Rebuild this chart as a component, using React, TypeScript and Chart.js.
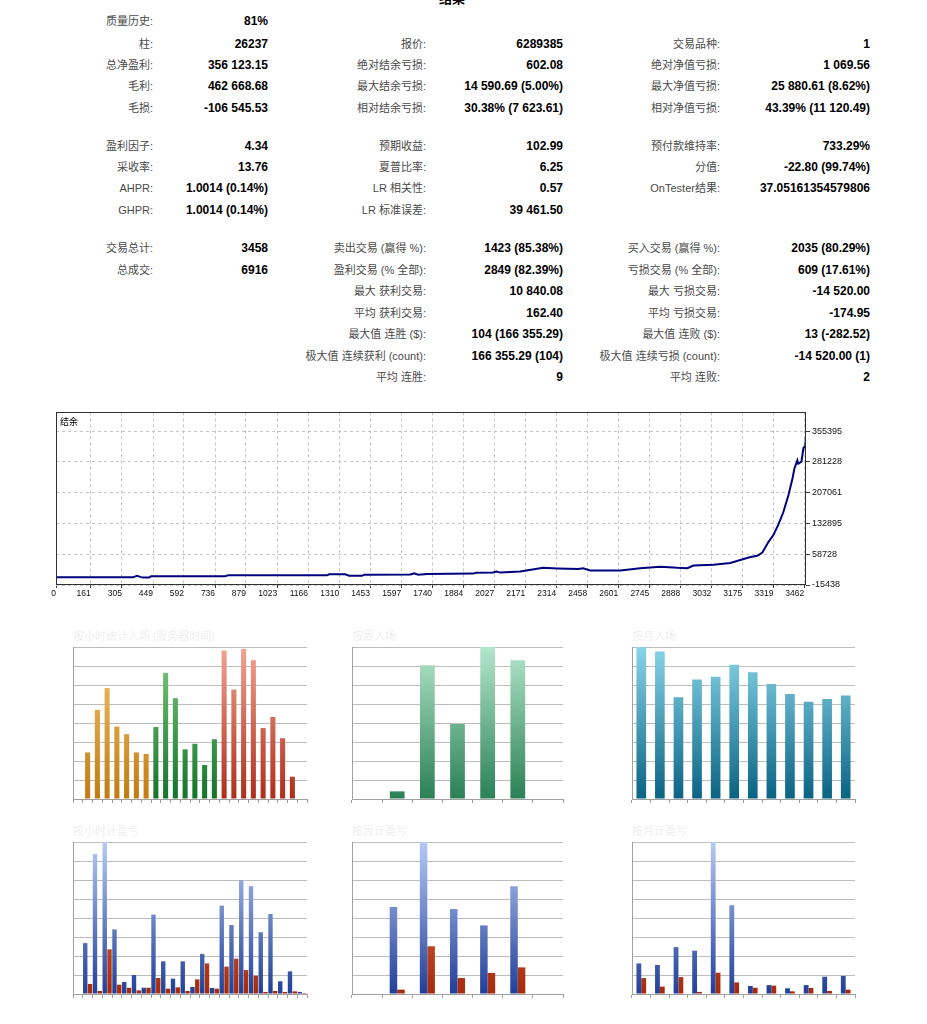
import React, { useEffect, useRef } from "react";
import { Chart, registerables } from "chart.js";

Chart.register(...registerables);

const LATIN = '"Liberation Sans", Arial, "Noto Sans CJK SC", sans-serif';
const CJK = '"Noto Sans CJK SC", "Liberation Sans", sans-serif';

// ---------------- report statistics ----------------
const reportTitle = "结果";
const statRowY = [21, 44, 65, 86, 108, 146, 167, 188, 210, 248, 270, 291, 313, 334, 356, 377];
const col1Labels = ["质量历史:", "柱:", "总净盈利:", "毛利:", "毛损:", "盈利因子:", "采收率:", "AHPR:", "GHPR:", "交易总计:", "总成交:", "", "", "", "", ""];
const col1Values = ["81%", "26237", "356 123.15", "462 668.68", "-106 545.53", "4.34", "13.76", "1.0014 (0.14%)", "1.0014 (0.14%)", "3458", "6916", "", "", "", "", ""];
const col2Labels = ["", "报价:", "绝对结余亏损:", "最大结余亏损:", "相对结余亏损:", "预期收益:", "夏普比率:", "LR 相关性:", "LR 标准误差:", "卖出交易 (赢得 %):", "盈利交易 (% 全部):", "最大 获利交易:", "平均 获利交易:", "最大值 连胜 ($):", "极大值 连续获利 (count):", "平均 连胜:"];
const col2Values = ["", "6289385", "602.08", "14 590.69 (5.00%)", "30.38% (7 623.61)", "102.99", "6.25", "0.57", "39 461.50", "1423 (85.38%)", "2849 (82.39%)", "10 840.08", "162.40", "104 (166 355.29)", "166 355.29 (104)", "9"];
const col3Labels = ["", "交易品种:", "绝对净值亏损:", "最大净值亏损:", "相对净值亏损:", "预付款维持率:", "分值:", "OnTester结果:", "", "买入交易 (赢得 %):", "亏损交易 (% 全部):", "最大 亏损交易:", "平均 亏损交易:", "最大值 连败 ($):", "极大值 连续亏损 (count):", "平均 连败:"];
const col3Values = ["", "1", "1 069.56", "25 880.61 (8.62%)", "43.39% (11 120.49)", "733.29%", "-22.80 (99.74%)", "37.05161354579806", "", "2035 (80.29%)", "609 (17.61%)", "-14 520.00", "-174.95", "13 (-282.52)", "-14 520.00 (1)", "2"];

// ---------------- balance chart ----------------
const balanceLabel = "结余";
const balanceTrades = [0, 356, 375, 393, 403, 430, 440, 782, 796, 1254, 1264, 1338, 1356, 1416, 1426, 1639, 1657, 1676, 1717, 1930, 1944, 2023, 2037, 2055, 2148, 2254, 2319, 2416, 2439, 2472, 2611, 2703, 2796, 2875, 2921, 2949, 3041, 3120, 3166, 3213, 3245, 3268, 3296, 3319, 3342, 3365, 3388, 3407, 3416, 3430, 3434, 3449, 3458, 3467, 3471];
const balanceValues = [3000, 3000, 6800, 3500, 2500, 2500, 5400, 5400, 7800, 7800, 10200, 10200, 6800, 6800, 9400, 9900, 12500, 9400, 11200, 12000, 14000, 15000, 17300, 14500, 17000, 26000, 24500, 23000, 25000, 19700, 19700, 25000, 28500, 26000, 25200, 31500, 33500, 37500, 45000, 52000, 55000, 63000, 88000, 105000, 130000, 160000, 200000, 240000, 265000, 285000, 277000, 282000, 315000, 320000, 355000];
const balanceXTicks = [0, 161, 305, 449, 592, 736, 879, 1023, 1166, 1310, 1453, 1597, 1740, 1884, 2027, 2171, 2314, 2458, 2601, 2745, 2888, 3032, 3175, 3319, 3462];
const balanceYTicks = [-15438, 58728, 132895, 207061, 281228, 355395];
const balanceXMax = 3470;
const balanceYMax = 400850;

// ---------------- distribution charts ----------------
const hourLabels = ["0", "1", "2", "3", "4", "5", "6", "7", "8", "9", "10", "11", "12", "13", "14", "15", "16", "17", "18", "19", "20", "21", "22", "23"];
const weekdayLabels = ["日", "一", "二", "三", "四", "五", "六"];
const monthLabels = ["1", "2", "3", "4", "5", "6", "7", "8", "9", "10", "11", "12"];

const entriesByHour = [0, 92, 176, 219, 143, 128, 92, 89, 142, 249, 199, 98, 109, 67, 118, 293, 216, 296, 274, 140, 162, 120, 44, 0];
const entriesByWeekday = [0, 52, 912, 512, 1037, 946, 0];
const entriesByMonth = [369, 358, 247, 290, 297, 326, 308, 279, 255, 236, 243, 251];

const profitByHour = [0, 19370, 53260, 57810, 24570, 4550, 7230, 2380, 30200, 12430, 5850, 12430, 2670, 15250, 2310, 33600, 26230, 43360, 41040, 23480, 30420, 4840, 8600, 790];
const lossByHour = [0, 3830, 1160, 16980, 3540, 2380, 1370, 2380, 6070, 2020, 2530, 1160, 5560, 11630, 2020, 10410, 13440, 9100, 6940, 790, 1160, 790, 1010, 360];
const profitByWeekday = [0, 80480, 140580, 78550, 63440, 99630, 0];
const lossByWeekday = [0, 4040, 44110, 14760, 19510, 24600, 0];
const profitByMonth = [30930, 29400, 47460, 43810, 153710, 89730, 8070, 9030, 5760, 9030, 17480, 18250];
const lossByMonth = [16140, 7490, 17100, 2110, 21520, 11720, 6340, 8450, 2690, 6150, 3070, 4420];

const panelTitles = ["按小时统计入场 (服务器时间)", "按周入场", "按月入场", "按小时计盈亏", "按周计盈亏", "按月计盈亏"];

// palettes [top, bottom]
const ORANGE = ["#f6c672", "#c27a10"];
const GREEN = ["#80cc80", "#13742a"];
const RED = ["#f3a493", "#ad2e1a"];
const MINT = ["#b4e6cb", "#2a8055"];
const TEAL = ["#88d5e8", "#0a6383"];
const BLUE = ["#b6caf3", "#213f98"];
const LOSS = ["#e8805e", "#a6290b"];

function gradFill(ctx: any, pal: string[]) {
  const chart = ctx.chart;
  const a = chart.chartArea;
  if (!a) return pal[1];
  const g = chart.ctx.createLinearGradient(0, a.top, 0, a.bottom);
  g.addColorStop(0, pal[0]);
  g.addColorStop(1, pal[1]);
  return g;
}
const fillOf = (pal: string[]) => (ctx: any) => gradFill(ctx, pal);
const hourPalette = (ctx: any) => {
  const i = ctx.dataIndex;
  return gradFill(ctx, i < 8 ? ORANGE : i < 15 ? GREEN : RED);
};

const PAD = 3;

function BarPanel(props: {
  x: number; top: number; right: number; base: number;
  labels: string[]; datasets: any[]; max: number; cat: number; bar: number;
}) {
  const ref = useRef<HTMLCanvasElement | null>(null);
  const W = props.right - props.x + 2 * PAD;
  const H = props.base - props.top + 2 * PAD + 4;
  useEffect(() => {
    const chart = new Chart(ref.current as HTMLCanvasElement, {
      type: "bar",
      data: { labels: props.labels, datasets: props.datasets },
      options: {
        animation: false,
        responsive: false,
        maintainAspectRatio: false,
        layout: { padding: { left: PAD, top: PAD, right: PAD, bottom: PAD } },
        plugins: { legend: { display: false }, tooltip: { enabled: false } },
        datasets: { bar: { categoryPercentage: props.cat, barPercentage: props.bar } },
        scales: {
          x: {
            grid: { display: true, drawOnChartArea: false, drawTicks: true, tickLength: 4, color: "#a0a0a0", offset: true },
            border: { display: true, color: "#a0a0a0" },
            ticks: { display: false },
            afterFit: (s: any) => { s.height = 4; },
          },
          y: {
            min: 0,
            max: props.max,
            ticks: { display: false, count: 9 },
            grid: { color: "#bdbdbd", drawTicks: false, lineWidth: 1 },
            border: { display: true, color: "#a0a0a0" },
            afterFit: (s: any) => { s.width = 0; },
          },
        },
      } as any,
    });
    return () => chart.destroy();
  }, []);
  return (
    <canvas
      ref={ref}
      width={W}
      height={H}
      style={{ position: "absolute", left: props.x - PAD, top: props.top - PAD, width: W, height: H, display: "block" }}
    />
  );
}

const framePlugin = {
  id: "frame",
  afterDraw(chart: any) {
    const { ctx, chartArea: a } = chart;
    ctx.save();
    ctx.strokeStyle = "#303030";
    ctx.lineWidth = 1;
    ctx.strokeRect(Math.round(a.left) + 0.5, Math.round(a.top) + 0.5, Math.round(a.right - a.left) - 1, Math.round(a.bottom - a.top) - 1);
    ctx.fillStyle = "#000";
    ctx.font = '9px ' + CJK;
    ctx.textBaseline = "middle";
    ctx.textAlign = "left";
    ctx.fillText(balanceLabel, a.left + 4, a.top + 9);
    ctx.restore();
  },
};

function BalanceChart() {
  const ref = useRef<HTMLCanvasElement | null>(null);
  const left = 46, top = 405, W = 830, H = 197;
  useEffect(() => {
    const chart = new Chart(ref.current as HTMLCanvasElement, {
      type: "line",
      data: {
        datasets: [
          {
            data: balanceTrades.map((t, i) => ({ x: t, y: balanceValues[i] })),
            borderColor: "#00007c",
            borderWidth: 2,
            pointRadius: 0,
            tension: 0,
            fill: false,
          },
        ],
      },
      options: {
        animation: false,
        responsive: false,
        maintainAspectRatio: false,
        layout: { padding: { left: 10, top: 6, right: 0, bottom: 0 } },
        plugins: { legend: { display: false }, tooltip: { enabled: false } },
        scales: {
          x: {
            type: "linear",
            min: 0,
            max: balanceXMax,
            afterBuildTicks: (s: any) => { s.ticks = balanceXTicks.map((v) => ({ value: v })); },
            afterFit: (s: any) => { s.height = 17; },
            grid: { color: "#c6c6c6", tickLength: 3, tickColor: "#404040", drawTicks: true },
            border: { display: false, dash: [3, 3] },
            ticks: {
              align: "end",
              padding: 1,
              color: "#111",
              autoSkip: false,
              maxRotation: 0,
              font: { size: 8.5, family: LATIN },
              callback: (v: any) => String(v),
            },
          },
          y: {
            position: "right",
            min: -15438,
            max: balanceYMax,
            afterBuildTicks: (s: any) => { s.ticks = balanceYTicks.map((v) => ({ value: v })); },
            afterFit: (s: any) => { s.width = 70; },
            grid: { color: "#c6c6c6", tickLength: 4, tickColor: "#404040", drawTicks: true },
            border: { display: false, dash: [3, 3] },
            ticks: {
              padding: 2,
              color: "#111",
              font: { size: 9, family: LATIN },
              callback: (v: any) => String(v),
            },
          },
        },
      } as any,
      plugins: [framePlugin],
    });
    return () => chart.destroy();
  }, []);
  return (
    <canvas
      ref={ref}
      width={W}
      height={H}
      style={{ position: "absolute", left, top, width: W, height: H, display: "block" }}
    />
  );
}

function Txt(props: { right: number; y: number; text: string; bold?: boolean }) {
  if (!props.text) return null;
  const w = 220;
  return (
    <div
      style={{
        position: "absolute",
        left: props.right - w,
        top: props.y - 8,
        width: w,
        textAlign: "right",
        lineHeight: "16px",
        whiteSpace: "nowrap",
        fontFamily: LATIN,
        fontSize: props.bold ? 12 : 11,
        fontWeight: props.bold ? 700 : 400,
        color: props.bold ? "#000" : "#4a4a4a",
      }}
    >
      {props.text}
    </div>
  );
}

function PanelTitle(props: { x: number; y: number; text: string }) {
  return (
    <div
      style={{
        position: "absolute",
        left: props.x,
        top: props.y - 8,
        lineHeight: "16px",
        fontSize: 11,
        fontFamily: CJK,
        color: "#efefef",
        whiteSpace: "nowrap",
      }}
    >
      {props.text}
    </div>
  );
}

export default function App() {
  const rows = statRowY.map((y, i) => (
    <React.Fragment key={i}>
      <Txt right={153} y={y} text={col1Labels[i]} />
      <Txt right={268} y={y} text={col1Values[i]} bold />
      <Txt right={426} y={y} text={col2Labels[i]} />
      <Txt right={563} y={y} text={col2Values[i]} bold />
      <Txt right={720} y={y} text={col3Labels[i]} />
      <Txt right={870} y={y} text={col3Values[i]} bold />
    </React.Fragment>
  ));
  return (
    <div style={{ position: "absolute", left: 0, top: 0, width: 927, height: 1024, overflow: "hidden", background: "#fff" }}>
      <div
        style={{
          position: "absolute",
          left: 402,
          width: 100,
          top: -10,
          textAlign: "center",
          lineHeight: "16px",
          fontSize: 13,
          fontWeight: 700,
          fontFamily: CJK,
          color: "#000",
        }}
      >
        {reportTitle}
      </div>
      {rows}
      <BalanceChart />

      <PanelTitle x={73} y={635} text={panelTitles[0]} />
      <PanelTitle x={352} y={635} text={panelTitles[1]} />
      <PanelTitle x={632} y={635} text={panelTitles[2]} />
      <PanelTitle x={73} y={830} text={panelTitles[3]} />
      <PanelTitle x={352} y={830} text={panelTitles[4]} />
      <PanelTitle x={632} y={830} text={panelTitles[5]} />

      <BarPanel x={73} top={647} right={307} base={799} labels={hourLabels} max={300} cat={0.52} bar={1}
        datasets={[{ data: entriesByHour, backgroundColor: hourPalette }]} />
      <BarPanel x={352} top={647} right={563} base={799} labels={weekdayLabels} max={1037} cat={0.49} bar={1}
        datasets={[{ data: entriesByWeekday, backgroundColor: fillOf(MINT) }]} />
      <BarPanel x={632} top={647} right={855} base={799} labels={monthLabels} max={369} cat={0.52} bar={1}
        datasets={[{ data: entriesByMonth, backgroundColor: fillOf(TEAL) }]} />

      <BarPanel x={73} top={842} right={307} base={994} labels={hourLabels} max={57810} cat={0.98} bar={0.92}
        datasets={[
          { data: profitByHour, backgroundColor: fillOf(BLUE) },
          { data: lossByHour, backgroundColor: fillOf(LOSS) },
        ]} />
      <BarPanel x={352} top={842} right={563} base={994} labels={weekdayLabels} max={140580} cat={0.5} bar={1}
        datasets={[
          { data: profitByWeekday, backgroundColor: fillOf(BLUE) },
          { data: lossByWeekday, backgroundColor: fillOf(LOSS) },
        ]} />
      <BarPanel x={632} top={842} right={855} base={994} labels={monthLabels} max={153710} cat={0.52} bar={1}
        datasets={[
          { data: profitByMonth, backgroundColor: fillOf(BLUE) },
          { data: lossByMonth, backgroundColor: fillOf(LOSS) },
        ]} />
    </div>
  );
}
